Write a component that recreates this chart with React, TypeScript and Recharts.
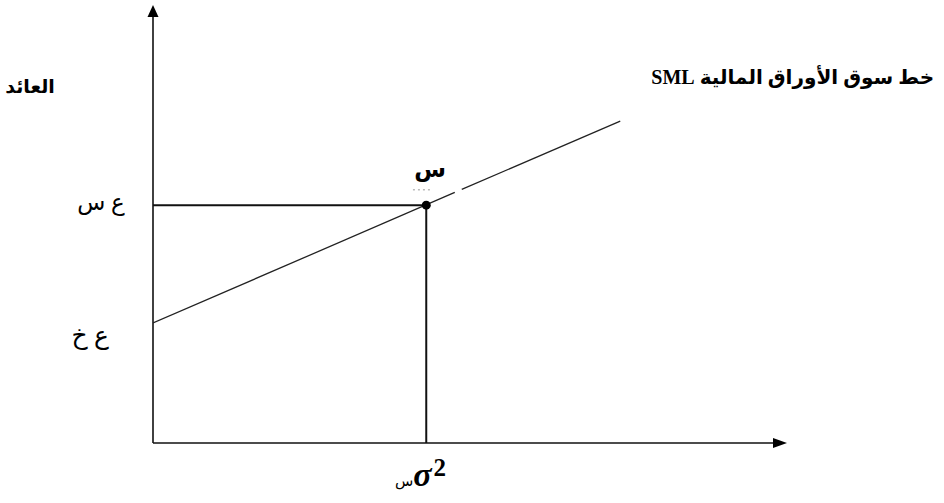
import { ComposedChart, Line, Scatter, XAxis, YAxis, ReferenceLine, ReferenceDot } from "recharts";

// SML segments (a small gap just right of the market point, as in the source figure)
const smlLeft = [{ x: 0, y: 27.4 }, { x: 47.6, y: 57.2 }];
const smlRight = [{ x: 48.7, y: 57.9 }, { x: 73.7, y: 73.5 }];
const market = [{ x: 43.1, y: 54.3 }];
const dashMark = [{ x: 41.0, y: 57.8 }, { x: 44.0, y: 57.8 }];

const AR = "'Liberation Serif', 'DejaVu Sans', serif";

type Lbl = { x: number; y: number; text: string; size: number; bold?: boolean; rtl?: boolean };
const labels: Lbl[] = [
  { x: -19.4, y: 79.9, text: "العائد", size: 19, bold: true },
  { x: 100.9, y: 82.0, text: "خط سوق الأوراق المالية SML", size: 20, bold: true, rtl: true },
  { x: -8.2, y: 53.2, text: "ع س", size: 23 },
  { x: -9.9, y: 22.6, text: "ع خ", size: 25 },
  { x: 43.7, y: 60.7, text: "س", size: 23, bold: true },
];

function textShape(l: Lbl) {
  return (p: any) => (
    <text x={p.cx} y={p.cy} textAnchor="middle" direction={l.rtl ? "rtl" : undefined}
      fontFamily={AR} fontSize={l.size} fontWeight={l.bold ? 700 : 400} fill="#000">{l.text}</text>
  );
}

function sigmaShape(p: any) {
  return (
    <text x={p.cx} y={p.cy} textAnchor="middle" fill="#000" fontFamily={AR}>
      <tspan fontSize={15}>س</tspan>
      <tspan fontSize={34} fontWeight={700} fontStyle="italic" fontFamily="'Liberation Serif', serif">σ</tspan>
      <tspan fontSize={25} fontWeight={700} dy={-10} dx={2} fontFamily="'Liberation Serif', serif">2</tspan>
    </text>
  );
}

const arrowUp = (p: any) => <polygon points={`${p.cx},${p.cy} ${p.cx - 5.5},${p.cy + 12} ${p.cx + 5.5},${p.cy + 12}`} fill="#000" />;
const arrowRight = (p: any) => <polygon points={`${p.cx},${p.cy} ${p.cx - 14},${p.cy - 5} ${p.cx - 14},${p.cy + 5}`} fill="#000" />;

export default function App() {
  const m = market[0];
  return (
    <div style={{ position: "absolute", left: 0, top: 0, background: "#fff" }}>
      <ComposedChart width={944} height={503} margin={{ top: 5, right: 157, bottom: 60, left: 153 }}>
        <XAxis dataKey="x" type="number" domain={[0, 100]} hide allowDataOverflow />
        <YAxis dataKey="y" type="number" domain={[0, 100]} hide allowDataOverflow />
        <ReferenceLine segment={[{ x: 0, y: 0 }, { x: 98, y: 0 }]} stroke="#111" strokeWidth={1.6} ifOverflow="visible" />
        <ReferenceLine segment={[{ x: 0, y: 0 }, { x: 0, y: 98 }]} stroke="#111" strokeWidth={1.6} ifOverflow="visible" />
        <ReferenceDot x={0} y={100} r={0} shape={arrowUp} ifOverflow="visible" />
        <ReferenceDot x={100} y={0} r={0} shape={arrowRight} ifOverflow="visible" />
        <ReferenceLine segment={[{ x: 0, y: m.y }, { x: m.x, y: m.y }]} stroke="#111" strokeWidth={2} />
        <ReferenceLine segment={[{ x: m.x, y: 0 }, { x: m.x, y: m.y }]} stroke="#111" strokeWidth={2} />
        <Line data={smlLeft} dataKey="y" stroke="#222" strokeWidth={1.3} dot={false} isAnimationActive={false} />
        <Line data={smlRight} dataKey="y" stroke="#222" strokeWidth={1.3} dot={false} isAnimationActive={false} />
        <Line data={dashMark} dataKey="y" stroke="#999" strokeWidth={1} strokeDasharray="2 3" dot={false} isAnimationActive={false} />
        <Scatter data={market} dataKey="y" fill="#000" isAnimationActive={false}
          shape={(p: any) => <circle cx={p.cx} cy={p.cy} r={4.5} fill="#000" />} />
        {labels.map((l) => (
          <ReferenceDot key={l.text} x={l.x} y={l.y} r={0} shape={textShape(l)} ifOverflow="visible" />
        ))}
        <ReferenceDot x={42.2} y={-9.9} r={0} shape={sigmaShape} ifOverflow="visible" />
      </ComposedChart>
    </div>
  );
}
